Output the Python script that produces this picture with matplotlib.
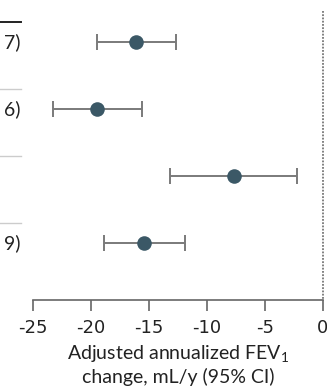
import matplotlib
matplotlib.use("Agg")
import matplotlib.pyplot as plt

# Data
row_labels = ["7)", "6)", "", "9)"]
estimates = [-16.1, -19.5, -7.7, -15.4]
ci_low = [-19.5, -23.3, -13.2, -18.9]
ci_high = [-12.7, -15.6, -2.2, -11.9]
xticks = [-25, -20, -15, -10, -5, 0]
xtick_labels = ["-25", "-20", "-15", "-10", "-5", "0"]
xlabel = "Adjusted annualized FEV$_1$\nchange, mL/y (95% CI)"

plt.rcParams['font.family'] = ['Lato', 'DejaVu Sans']
plt.rcParams['mathtext.fontset'] = 'custom'
plt.rcParams['mathtext.rm'] = 'Lato'
plt.rcParams['mathtext.it'] = 'Lato'
plt.rcParams['mathtext.default'] = 'rm'

W, H = 327, 391
fig = plt.figure(figsize=(W / 100, H / 100), dpi=100)

ax_bottom_px = 300
ax = fig.add_axes([0, (H - ax_bottom_px) / H, 1, ax_bottom_px / H])

px0, ppu = 323.0, 11.6  # pixel of value 0, pixels per unit
ax.set_xlim((0 - px0) / ppu, (W - px0) / ppu)
row0, rstep = 42.0, 67.0
ax.set_ylim((ax_bottom_px - row0) / rstep, (0 - row0) / rstep)

ys = list(range(len(estimates)))
xerr = [[e - l for e, l in zip(estimates, ci_low)], [h - e for e, h in zip(estimates, ci_high)]]
ax.errorbar(estimates, ys, xerr=xerr, fmt='none', ecolor='#7a7a7a', elinewidth=1.4,
            capsize=6, capthick=1.4, zorder=2)
ax.scatter(estimates, ys, s=110, color='#3b5866', zorder=3, linewidths=0)

# reference line at 0
ax.plot([0, 0], [(11 - row0) / rstep, (ax_bottom_px - row0) / rstep], color='#777777',
        linestyle=(0, (1, 0.8)), linewidth=1.3, zorder=1, clip_on=False)

# left table fragments
x_text_right = (20.5 - px0) / ppu
x_line_end = (21 - px0) / ppu
x_left = (0 - px0) / ppu
for i, lab in enumerate(row_labels):
    if lab:
        ax.text(x_text_right, i, lab, ha='right', va='center', fontsize=14, color='#222222')
    color = '#222222' if i == 0 else '#cccccc'
    lw = 1.4 if i == 0 else 1.0
    ax.plot([x_left, x_line_end], [i - 0.3, i - 0.3], color=color, linewidth=lw, clip_on=False)

for s in ['top', 'right', 'left']:
    ax.spines[s].set_visible(False)
ax.spines['bottom'].set_bounds(-25, 0)
ax.spines['bottom'].set_color('#666666')
ax.spines['bottom'].set_linewidth(1.2)
ax.set_yticks([])
ax.set_xticks(xticks)
ax.set_xticklabels(xtick_labels, fontsize=13, color='#222222', family='DejaVu Sans')
ax.tick_params(axis='x', direction='out', length=8, width=1.2, color='#666666', pad=6)
ax.set_xlabel(xlabel, fontsize=14, color='#222222', linespacing=1.25)
ax.xaxis.label.set_va('top')
ax.xaxis.set_label_coords(178 / W, (H - 343) / H, transform=fig.transFigure)

fig.savefig("out.png", dpi=100)
